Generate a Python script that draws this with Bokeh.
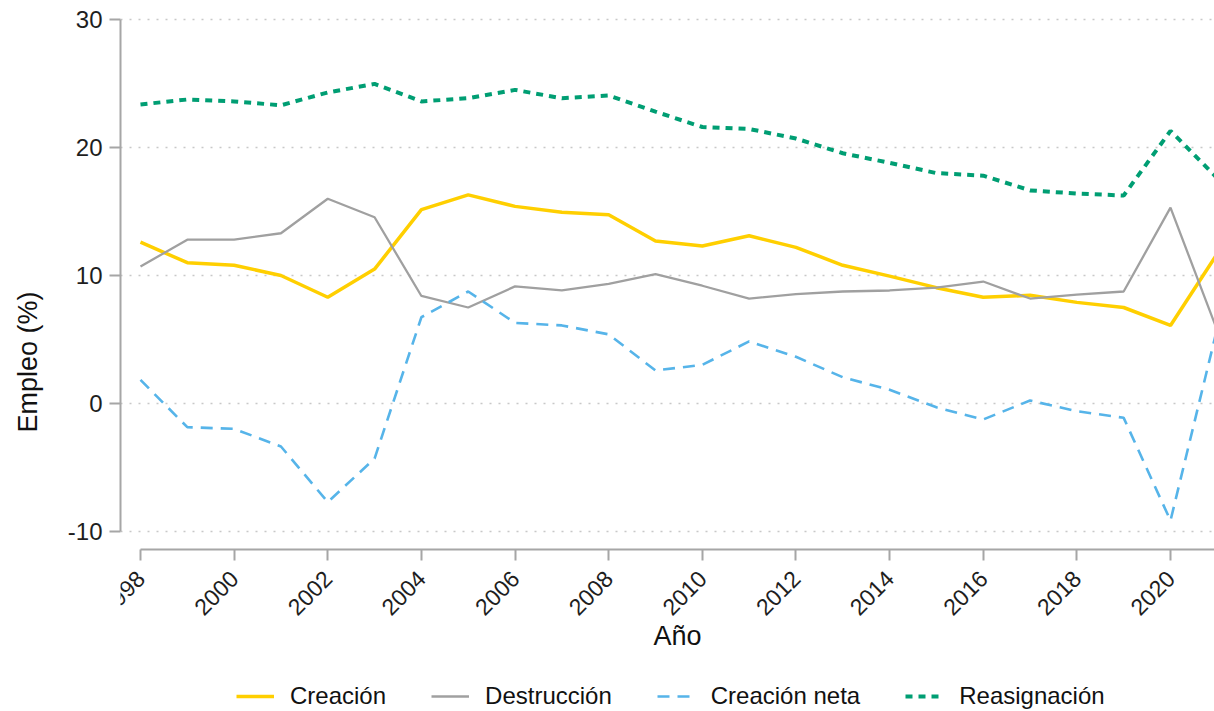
import math
from bokeh.plotting import figure
from bokeh.models import FixedTicker, Legend, LegendItem, Range1d, PrintfTickFormatter
from bokeh.embed import file_html
from bokeh.resources import INLINE

years = list(range(1998, 2022))
creacion = [12.6, 11.0, 10.8, 10.0, 8.3, 10.5, 15.15, 16.3, 15.4, 14.95, 14.75, 12.7,
            12.3, 13.1, 12.2, 10.8, 9.95, 9.05, 8.3, 8.45, 7.9, 7.5, 6.1, 11.7]
destruccion = [10.7, 12.8, 12.8, 13.3, 16.0, 14.55, 8.4, 7.5, 9.15, 8.83, 9.35, 10.1,
               9.2, 8.2, 8.55, 8.75, 8.83, 9.05, 9.53, 8.2, 8.5, 8.75, 15.3, 5.7]
creacion_neta = [1.85, -1.85, -1.98, -3.36, -7.7, -4.3, 6.74, 8.75, 6.3, 6.1, 5.4, 2.58,
                 3.02, 4.85, 3.65, 2.05, 1.07, -0.3, -1.25, 0.23, -0.6, -1.12, -9.15, 5.9]
reasignacion = [23.36, 23.75, 23.6, 23.3, 24.3, 24.97, 23.6, 23.85, 24.5, 23.85, 24.06, 22.8,
                21.6, 21.45, 20.7, 19.55, 18.8, 18.0, 17.8, 16.65, 16.4, 16.25, 21.3, 17.6]

x_ticks = list(range(1998, 2021, 2))
y_ticks = [-10, 0, 10, 20, 30]
labels = ["Creación", "Destrucción", "Creación neta", "Reasignación"]

FONT = "Liberation Sans"
AXIS_COL = "#a6a6a6"

# frame extends down to the page bottom so the legend (inside the frame) is not clipped;
# the x axis is pinned at the bottom of the data area
p = figure(frame_width=1094, frame_height=699, output_backend="svg", toolbar_location=None,
           x_range=Range1d(1997.573, 2020.94), y_range=Range1d(-24.0625, 30.547),
           min_border_left=120, min_border_right=0, min_border_top=12, min_border_bottom=0)
p.outline_line_color = None
p.background_fill_color = "white"

r1 = p.line(years, creacion, line_color="#FFCF00", line_width=3.5)
r2 = p.line(years, destruccion, line_color="#A0A0A0", line_width=2.3)
r3 = p.line(years, creacion_neta, line_color="#56B4E9", line_width=2.6, line_dash="12 8")
r4 = p.line(years, reasignacion, line_color="#009E73", line_width=4, line_dash="7 6")

p.xgrid.visible = False
p.ygrid.ticker = FixedTicker(ticks=y_ticks)
p.ygrid.grid_line_color = "#c8c8c8"
p.ygrid.grid_line_width = 1.5
p.ygrid.grid_line_dash = "2 7"

p.xaxis.ticker = FixedTicker(ticks=x_ticks)
p.yaxis.ticker = FixedTicker(ticks=y_ticks)
p.yaxis.formatter = PrintfTickFormatter(format="%d")
p.xaxis.formatter = PrintfTickFormatter(format="%d")
p.xaxis.bounds = (1998, 2022)
p.yaxis.bounds = (-10, 30)
p.xaxis.fixed_location = -11.406
for ax in (p.xaxis, p.yaxis):
    ax.axis_line_color = AXIS_COL
    ax.axis_line_width = 2
    ax.major_tick_line_color = AXIS_COL
    ax.major_tick_line_width = 2
    ax.major_tick_in = 0
    ax.major_tick_out = 11
    ax.minor_tick_line_color = None
    ax.major_label_text_font = FONT
    ax.major_label_text_color = "#1e1e1e"
    ax.axis_label_text_font = FONT
    ax.axis_label_text_font_style = "normal"
    ax.axis_label_text_color = "#111111"
    ax.axis_label_text_font_size = "27px"

p.yaxis.major_label_text_font_size = "24px"
p.yaxis.major_label_standoff = 7
p.yaxis.axis_label = "Empleo (%)"
p.yaxis.axis_label_standoff = 22

p.xaxis.major_label_text_font_size = "23px"
p.xaxis.major_label_orientation = math.pi / 4
p.xaxis.major_label_standoff = 14
p.xaxis.axis_label = "Año"
p.xaxis.axis_label_standoff = -5

legend = Legend(items=[LegendItem(label=labels[0], renderers=[r1]),
                       LegendItem(label=labels[1], renderers=[r2]),
                       LegendItem(label=labels[2], renderers=[r3]),
                       LegendItem(label=labels[3], renderers=[r4])],
                orientation="horizontal", location=(116, 1),
                glyph_width=38, glyph_height=20, label_standoff=16, spacing=45,
                label_text_font=FONT, label_text_font_size="24px", label_text_color="#111111",
                border_line_color=None, background_fill_alpha=0, padding=0,
                margin=0)
p.add_layout(legend, "center")

open("out.html", "w").write(file_html(p, INLINE))
